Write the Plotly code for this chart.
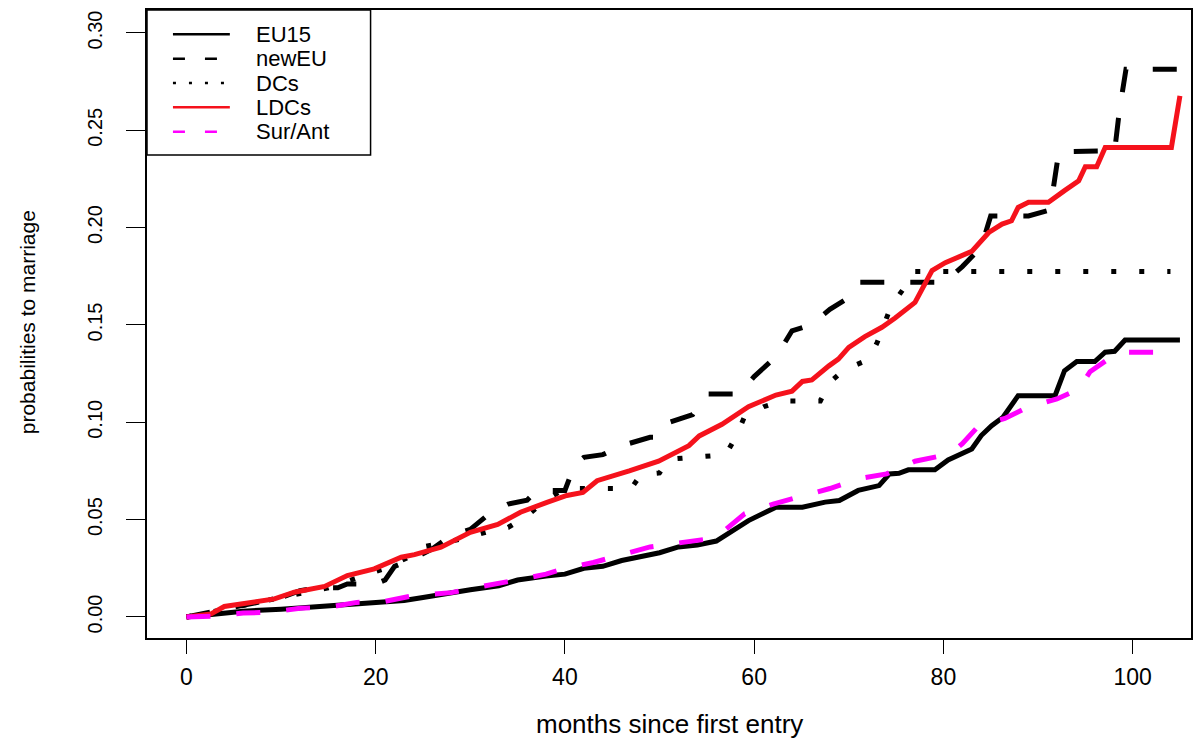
import plotly.graph_objects as go

# ---------------- data ----------------
eu15_months = [0,3,6,10,14,16,18,20,23,25,28,30,33,35,38,40,42,44,46,48,50,52,54,56,57.7,59.4,62.3,65.1,67.5,69,
               71,73.2,74.3,75.3,76.3,79.1,80.5,83,84,85.1,86.3,87.9,91.8,92.8,94.1,96,97.1,98.1,99.2,105]
eu15_prob = [0,0.0015,0.003,0.004,0.0055,0.006,0.0065,0.0075,0.0085,0.010,0.0125,0.014,0.016,0.019,0.021,0.022,
             0.025,0.026,0.029,0.031,0.033,0.036,0.037,0.039,0.0444,0.0495,0.0564,0.0564,0.059,0.0598,0.065,0.0675,
             0.0735,0.0738,0.0756,0.0756,0.0807,0.0863,0.0932,0.0983,0.1026,0.1137,0.1137,0.1265,0.1312,0.1312,
             0.136,0.1365,0.1423,0.1423]

neweu_months = [0,3,6,8,10,12,14,16,17,20,21,22,24,26,28,30,32,34,36,37,40,41,42,44,46,49,50,51,53.5,55,
                58.4,60,61.7,63,64,66,68,70,71,80,80.5,82,84,85,89,91,91.5,92.2,98.1,98.6,99.3,105]
neweu_prob = [0,0.003,0.006,0.0085,0.010,0.0135,0.015,0.015,0.017,0.017,0.019,0.026,0.030,0.035,0.042,0.045,
              0.053,0.058,0.060,0.065,0.065,0.078,0.082,0.0834,0.088,0.0923,0.0923,0.100,0.104,0.1146,0.1146,
              0.1235,0.131,0.139,0.147,0.150,0.158,0.164,0.172,0.172,0.1736,0.180,0.190,0.206,0.206,0.2087,
              0.2164,0.239,0.2395,0.26,0.2814,0.2814]

dcs_months = [0,3,6,9,12,15,18,21,24,25,29,32,34,36,38,40,47,48,50,51,57,58,59,61,63,67,68,69.5,71.5,72.5,
              73,74.5,76,77,104]
dcs_prob = [0,0.003,0.006,0.009,0.012,0.015,0.020,0.025,0.032,0.036,0.040,0.044,0.046,0.052,0.060,0.066,0.066,
            0.073,0.074,0.081,0.0834,0.092,0.103,0.108,0.111,0.111,0.1205,0.127,0.131,0.136,0.141,0.160,0.170,
            0.1775,0.1775]

ldcs_months = [0,2.6,4,6.1,9.3,11.4,14.6,17,19.85,22.7,24.1,26.9,30,32.9,35.3,38.1,40.2,41.9,43.4,46.8,49.9,
               53.1,54.2,56.6,59.4,62.3,64,65.1,66.1,67.9,68.9,70,71.7,73.5,74.9,77,78.8,80.2,81.6,83,84.8,86.2,
               87.2,87.9,89,91.1,92.8,94.3,95,96.2,97.1,104.1,105]
ldcs_prob = [0,0.0016,0.0054,0.0068,0.0093,0.0127,0.0157,0.0213,0.0247,0.0307,0.032,0.0358,0.0435,0.0475,
             0.0538,0.0589,0.0624,0.064,0.070,0.075,0.080,0.088,0.093,0.099,0.108,0.114,0.116,0.121,0.1218,0.129,
             0.1325,0.1385,0.144,0.1488,0.1536,0.1616,0.1779,0.182,0.1847,0.1878,0.1975,0.2018,0.2035,0.2104,
             0.213,0.213,0.219,0.224,0.2313,0.2313,0.2412,0.2412,0.2677]

surant_months = [0,3,6,9,12,15,18,21,24,28,31,34,36,38,40,43,46,49,52,55,57,59,62,65,68,71,74,77,79.5,81,
                 82,83.5,85,86.5,88.8,92,94.3,95.5,97.8,99,104.3]
surant_prob = [0,0.0005,0.002,0.0025,0.0045,0.005,0.0075,0.008,0.011,0.0125,0.0155,0.018,0.020,0.022,0.025,
               0.028,0.032,0.036,0.038,0.040,0.045,0.053,0.058,0.062,0.066,0.071,0.0735,0.080,0.0825,0.085,
               0.089,0.097,0.100,0.102,0.1075,0.112,0.117,0.126,0.1337,0.136,0.136]

series_names = ["EU15", "newEU", "DCs", "LDCs", "Sur/Ant"]
x_ticks = [0, 20, 40, 60, 80, 100]
y_ticks = [0.00, 0.05, 0.10, 0.15, 0.20, 0.25, 0.30]
y_tick_labels = ["0.00", "0.05", "0.10", "0.15", "0.20", "0.25", "0.30"]

# ---------------- styles ----------------
RED = "#f5121c"
MAG = "#ff00ff"
LW = 5
FONT = "Liberation Sans, Arial, sans-serif"
styles = [
    dict(color="black", dash="solid"),
    dict(color="black", dash="24px,26px"),
    dict(color="black", dash="5px,23px"),
    dict(color=RED, dash="solid"),
    dict(color=MAG, dash="24px,26px"),
]
legend_dash = ["solid", "12px,20px", "3px,13px", "solid", "12px,20px"]

W, H = 1195, 740
BOX_L, BOX_R, BOX_T, BOX_B = 147, 1193, 10, 638  # pixels of plot box
L, R, T, B = BOX_L, W - BOX_R, BOX_T, H - BOX_B
PW, PH = BOX_R - BOX_L, BOX_B - BOX_T


def px(xs):
    return (xs - BOX_L) / PW


def py(ys):
    return (BOX_B - ys) / PH


fig = go.Figure()
data = [(eu15_months, eu15_prob), (neweu_months, neweu_prob), (dcs_months, dcs_prob),
        (ldcs_months, ldcs_prob), (surant_months, surant_prob)]
for (m, p), name, st in zip(data, series_names, styles):
    fig.add_trace(go.Scatter(x=m, y=p, mode="lines", name=name, showlegend=False,
                             line=dict(color=st["color"], width=LW, dash=st["dash"])))

# ---------------- custom legend ----------------
shapes = [dict(type="rect", xref="paper", yref="paper", x0=px(147), x1=px(371), y0=py(10), y1=py(155),
               line=dict(color="black", width=1.5), fillcolor="white", layer="above")]
annotations = []
row_y = [34.3, 58.7, 83.0, 107.3, 131.7]
for name, st, ld, ry in zip(series_names, styles, legend_dash, row_y):
    shapes.append(dict(type="line", xref="paper", yref="paper", x0=px(173), x1=px(230), y0=py(ry), y1=py(ry),
                       line=dict(color=st["color"], width=2.6, dash=ld), layer="above"))
    annotations.append(dict(text=name, xref="paper", yref="paper", x=px(255), y=py(ry), xanchor="left",
                            yanchor="middle", showarrow=False, borderpad=0,
                            font=dict(family=FONT, size=22, color="black")))

# axis titles
annotations.append(dict(text="months since first entry", xref="paper", yref="paper", x=px(670), y=py(724),
                        xanchor="center", yanchor="middle", showarrow=False,
                        font=dict(family=FONT, size=26, color="black")))
annotations.append(dict(text="probabilities to marriage", xref="paper", yref="paper", x=px(27), y=py(322),
                        xanchor="center", yanchor="middle", showarrow=False, textangle=-90,
                        font=dict(family=FONT, size=21, color="black")))

fig.update_layout(
    width=W, height=H,
    margin=dict(l=L, r=R, t=T, b=B, pad=0),
    paper_bgcolor="white", plot_bgcolor="white",
    showlegend=False,
    shapes=shapes, annotations=annotations,
    xaxis=dict(range=[-4.17, 106.17], tickvals=x_ticks, ticktext=[str(v) for v in x_ticks],
               showgrid=False, zeroline=False, showline=True, mirror=True, linecolor="black", linewidth=1.5,
               ticks="outside", ticklen=14, tickwidth=1.2, tickcolor="black", ticklabelstandoff=4,
               tickfont=dict(family=FONT, size=23, color="black")),
    yaxis=dict(range=[-0.0108, 0.3118], tickvals=y_ticks, ticktext=y_tick_labels, tickangle=-90,
               showgrid=False, zeroline=False, showline=True, mirror=True, linecolor="black", linewidth=1.8,
               ticks="outside", ticklen=19, tickwidth=1.2, tickcolor="black", ticklabelstandoff=16,
               tickfont=dict(family=FONT, size=20, color="black")),
)

fig.write_html("out.html", config={"displayModeBar": False},
               post_script="document.body.style.margin='0';document.body.style.overflow='hidden';")
